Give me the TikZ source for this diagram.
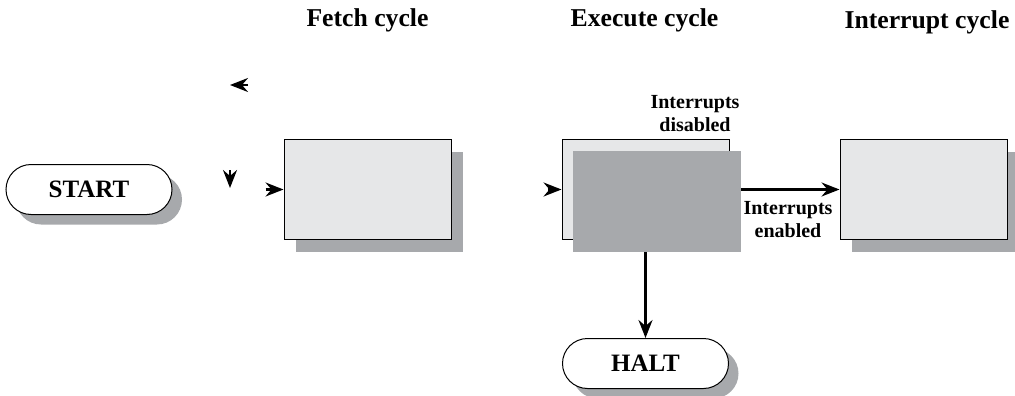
\documentclass[tikz,border=0pt]{standalone}
\usepackage{fontspec}
\setmainfont{Liberation Serif}
\usetikzlibrary{arrows.meta, positioning, shadows}
\definecolor{boxgray}{HTML}{E6E7E8}
\definecolor{shadegray}{HTML}{A7A9AC}

\begin{document}
\begin{tikzpicture}[
    x=1pt, y=1pt,
    node distance=98pt and 110pt,
    box/.style={draw, line width=1pt, fill=boxgray, minimum width=167pt, minimum height=100pt},
    stage/.style={box, drop shadow={shadow xshift=12pt, shadow yshift=-12pt, fill=shadegray, opacity=1}},
    terminal/.style={draw, line width=1pt, fill=white, rounded corners=25pt, minimum width=166pt, minimum height=50pt,
        font=\fontsize{25}{30}\selectfont\bfseries,
        drop shadow={shadow xshift=10pt, shadow yshift=-10pt, fill=shadegray, opacity=1}},
    title/.style={anchor=base, font=\fontsize{25.7}{30}\selectfont\bfseries},
    note/.style={align=center, font=\fontsize{20}{23}\selectfont\bfseries},
    flow/.style={-{Stealth[length=18pt, width=14pt, inset=6pt]}, line width=2.4pt}
]
    \useasboundingbox (0,0) rectangle (1015,-396);

    \node[title] (fetchtitle) at (367.5,-27) {Fetch cycle};
    \node[title] (exectitle) at (644.5,-27) {Execute cycle};
    \node[title] (inttitle) at (927,-29) {Interrupt cycle};

    \node[stage] (fetch) at (367.5,-189.5) {};
    \node[box, right=of fetch] (exec) {};
    \node[stage, right=of exec] (intr) {};
    \node[terminal, left=111pt of fetch] (start) {START};
    \node[terminal, below=of exec] (halt) {HALT};

    % loose arrow heads
    \coordinate (loopA) at (248,-85);
    \coordinate (loopB) at (230,-170);
    \draw[flow] (loopA) -- ++(-18,0);
    \draw[flow] (loopB) -- ++(0,-18);
    \draw[flow] ([xshift=-18pt]fetch.west) -- (fetch.west);
    \draw[flow] ([xshift=-14pt]exec.west) -- (exec.west);

    \draw[flow] (exec.east) -- (intr.west);
    \draw[flow] (exec.south) -- (halt.north);
    \fill[shadegray] ([shift={(11pt,-12pt)}]exec.south west) rectangle ([shift={(11pt,-12pt)}]exec.north east);

    \node[note] (disabled) at (695,-114) {Interrupts\\disabled};
    \node[note] (enabled) at (788,-220) {Interrupts\\enabled};
\end{tikzpicture}
\end{document}
